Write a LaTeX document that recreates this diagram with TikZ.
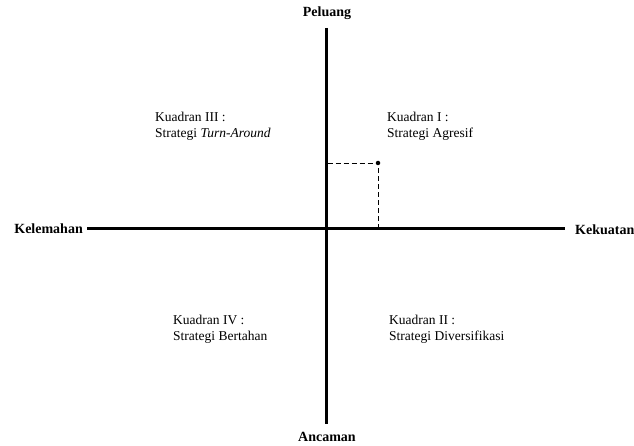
\documentclass[tikz,border=0pt]{standalone}
\usepackage{fontspec}
\setmainfont{Liberation Serif}
\usetikzlibrary{calc}

\tikzset{
  axis/.style={line width=3pt},
  axislabel/.style={font=\fontsize{14}{16}\selectfont\bfseries, inner sep=0pt},
  kuadran/.style={font=\fontsize{13.5}{16}\selectfont, align=left, anchor=north west, inner sep=0pt},
  guide/.style={dashed, line width=0.8pt, dash pattern=on 5pt off 3pt}
}

\begin{document}
\begin{tikzpicture}[x=1pt,y=-1pt]
\useasboundingbox (0,0) rectangle (634,446);

% axes
\coordinate (top) at (326,28);
\coordinate (bottom) at (326,424);
\coordinate (left) at (87,229);
\coordinate (right) at (565,229);
\draw[axis] (left) -- (right);
\draw[axis] (top) -- (bottom);

\node[axislabel] at (327,13) (peluang) {Peluang};
\node[axislabel] at (327,437) (ancaman) {Ancaman};
\node[axislabel, anchor=east] at (83,229) (kelemahan) {Kelemahan};
\node[axislabel, anchor=west] at (575,230) (kekuatan) {Kekuatan};

% quadrants
\node[kuadran] at (155,112) (k3) {Kuadran III :\\Strategi \textit{Turn-Around}};
\node[kuadran] at (387,112) (k1) {Kuadran I :\\Strategi Agresif};
\node[kuadran] at (173,315) (k4) {Kuadran IV :\\Strategi Bertahan};
\node[kuadran] at (389,315) (k2) {Kuadran II :\\Strategi Diversifikasi};

% position
\node[circle, fill=black, inner sep=0pt, minimum size=4.5pt] at (378,163) (titik) {};
\coordinate (ty) at (327.5,163);
\coordinate (tx) at (378,227.5);
\draw[guide] (ty) -- (titik.center) -- (tx);
\end{tikzpicture}
\end{document}
